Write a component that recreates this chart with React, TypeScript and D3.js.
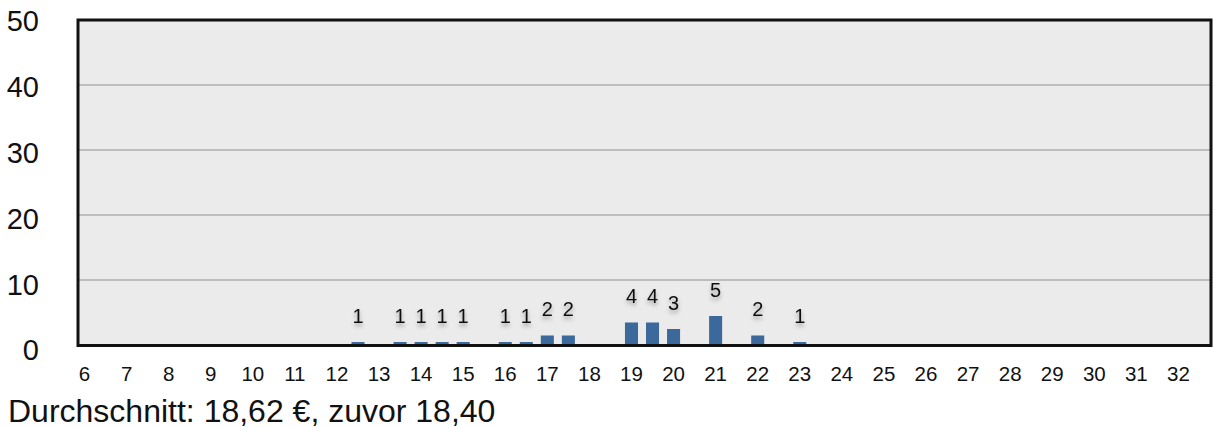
import React from "react";
import * as d3 from "d3";

const categories: number[] = d3.range(6, 33, 0.5);
const xTickLabels: number[] = d3.range(6, 33, 1);
const priceBins: number[] = [12.5, 13.5, 14, 14.5, 15, 16, 16.5, 17, 17.5, 19, 19.5, 20, 21, 22, 23];
const counts: number[] = [1, 1, 1, 1, 1, 1, 1, 2, 2, 4, 4, 3, 5, 2, 1];
const yTicks: number[] = [0, 10, 20, 30, 40, 50];
const footer = "Durchschnitt: 18,62 €, zuvor 18,40";

const W = 1214;
const H = 428;
const FONT = "'Liberation Sans', Arial, Helvetica, sans-serif";

export default function App() {
  const x = d3
    .scaleBand<number>()
    .domain(categories)
    .range([74, 1210])
    .paddingInner(0.38)
    .paddingOuter(0.19);
  const y = d3.scaleLinear().domain([0, 50]).range([345, 20]);
  const yLabel = d3.scaleLinear().domain([0, 50]).range([350, 21]);
  const barInset = 3.5;
  const center = (v: number) => (x(v) as number) + x.bandwidth() / 2;

  return (
    <svg
      width={W}
      height={H}
      style={{ position: "absolute", left: 0, top: 0, background: "#fff" }}
      fontFamily={FONT}
    >
      <defs>
        <filter id="sh" x="-50%" y="-50%" width="200%" height="200%">
          <feDropShadow dx="0" dy="3" stdDeviation="2" floodColor="#000" floodOpacity="0.35" />
        </filter>
      </defs>
      <rect x={78} y={20} width={1133} height={325} fill="#ebebeb" />
      {yTicks
        .filter((t) => t > 0 && t < 50)
        .map((t) => (
          <line key={t} x1={79} x2={1210} y1={y(t)} y2={y(t)} stroke="#bdbdbd" strokeWidth={2} />
        ))}
      {priceBins.map((p, i) => {
        const top = y(counts[i]) + barInset;
        return (
          <rect
            key={p}
            x={x(p) as number}
            y={top}
            width={x.bandwidth()}
            height={Math.max(0, y(0) - top)}
            fill="#3b699c"
          />
        );
      })}
      {priceBins.map((p, i) => {
        const top = y(counts[i]) + barInset;
        return (
          <text
            key={"l" + p}
            x={center(p)}
            y={top - 19.5}
            textAnchor="middle"
            fontSize={20}
            fill="#111"
            filter="url(#sh)"
          >
            {counts[i]}
          </text>
        );
      })}
      <rect x={78} y={20} width={1133} height={325.5} fill="none" stroke="#111" strokeWidth={3} />
      {yTicks.map((t) => (
        <text
          key={"y" + t}
          x={39}
          y={yLabel(t)}
          dy="0.36em"
          textAnchor="end"
          fontSize={29}
          fill="#111"
        >
          {t}
        </text>
      ))}
      {xTickLabels.map((t) => (
        <text key={"x" + t} x={center(t)} y={381} textAnchor="middle" fontSize={20.5} fill="#111">
          {t}
        </text>
      ))}
      <text x={8} y={421.5} fontSize={32} fill="#111">
        {footer}
      </text>
    </svg>
  );
}
